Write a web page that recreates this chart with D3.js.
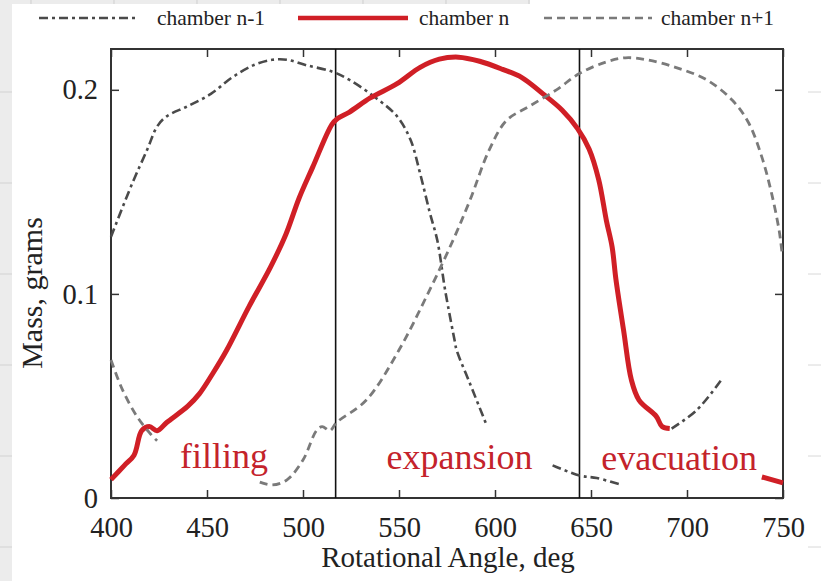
<!DOCTYPE html>
<html>
<head>
<meta charset="utf-8">
<script src="https://cdn.jsdelivr.net/npm/d3@7"></script>
<style>
  body { margin: 0; background: #fff; }
  svg text { font-family: "Liberation Serif", "Times New Roman", serif; }
</style>
</head>
<body>
<div id="chart"></div>
<script>
// Data (angle in deg, mass in grams); null breaks a line
const chamberPrev = [
  [400, 0.128], [411, 0.154], [419, 0.171], [424, 0.182], [429, 0.187], [440, 0.192],
  [452, 0.198], [463, 0.206], [474, 0.212], [484, 0.2147], [492, 0.2147], [502, 0.212],
  [515, 0.209], [524, 0.205], [538, 0.196], [549, 0.187], [556, 0.1755], [561, 0.159],
  [566, 0.14], [570, 0.126], [574, 0.102], [579, 0.077], [580, 0.0725], [587, 0.056],
  [595.5, 0.036],
  null,
  [630, 0.016], [644, 0.011], [653, 0.0098], [666, 0.0064],
  null,
  [692, 0.034], [705, 0.043], [718, 0.058]
]
const chamberN = [
  [400, 0.009], [407, 0.016], [412, 0.021], [416, 0.033], [420, 0.035], [424, 0.033],
  [429, 0.037], [440, 0.045], [446, 0.051], [453, 0.061], [460, 0.072], [472, 0.094],
  [483, 0.113], [491, 0.129], [498, 0.147], [505, 0.162], [515, 0.183], [518, 0.186],
  [524, 0.189], [535, 0.196], [549, 0.203], [561, 0.211], [571, 0.215], [581, 0.216],
  [592, 0.214], [604, 0.21], [614, 0.206], [625, 0.198], [635, 0.19], [643, 0.181],
  [649, 0.171], [654, 0.156], [658, 0.136], [661, 0.123], [663, 0.107], [667, 0.082],
  [671, 0.058], [675, 0.048], [684, 0.04], [687, 0.035], [691, 0.034],
  null,
  [739, 0.0103], [750, 0.0074]
]
const chamberNext = [
  [400, 0.0676], [406, 0.053], [413.5, 0.04], [420, 0.032], [424, 0.028],
  null,
  [477.5, 0.0078], [484, 0.0064], [491.5, 0.0088], [500, 0.0186], [507, 0.033],
  [510, 0.035], [514, 0.033], [517.5, 0.037], [533, 0.048], [550, 0.0725], [566, 0.102],
  [578, 0.126], [587, 0.146], [597, 0.1706], [606, 0.185], [618, 0.192], [632, 0.2],
  [644, 0.208], [658, 0.2137], [668, 0.2157], [679, 0.2147], [694, 0.211], [710, 0.205],
  [723.5, 0.195], [732, 0.184], [739, 0.167], [744, 0.1495], [748, 0.131], [749.5, 0.12]
]
const seriesNames = ["chamber n-1", "chamber n", "chamber n+1"]
const xTicks = [400, 450, 500, 550, 600, 650, 700, 750]
const yTicks = [0, 0.1, 0.2]
const yTickLabels = ["0", "0.1", "0.2"]
const phaseBounds = [517, 644]
const phaseNames = ["filling", "expansion", "evacuation"]
const phaseAnchors = [[436, 0.0147], [543.5, 0.0142], [655.3, 0.0137]]

// Dimensions
const width = 821
const height = 581
const plot = {left: 111, right: 783, top: 49, bottom: 498}
const red = "#d01f26"

const svg = d3.select("#chart")
  .append("svg")
    .attr("width", width)
    .attr("height", height)

// Page background bits (gray strip and faint rules)
svg.append("rect").attr("x", 0).attr("y", 0).attr("width", 12).attr("height", height).attr("fill", "#ececec")
svg.append("rect").attr("x", 0).attr("y", 0).attr("width", 530).attr("height", 4).attr("fill", "#ececec")
d3.range(31, 530, 83).forEach(function(sx) {
  svg.append("line").attr("x1", sx).attr("x2", sx).attr("y1", 0).attr("y2", 4).attr("stroke", "#cfcfcf")
})
d3.range(92, 560, 91).forEach(function(ry) {
  svg.append("line").attr("x1", 0).attr("x2", 12).attr("y1", ry).attr("y2", ry).attr("stroke", "#d2d2d2")
  svg.append("line").attr("x1", 808).attr("x2", width).attr("y1", ry).attr("y2", ry).attr("stroke", "#d8d8d8")
})

// Scales
const xScale = d3.scaleLinear().domain([400, 750]).range([plot.left, plot.right])
const yScale = d3.scaleLinear().domain([0, 0.22]).range([plot.bottom, plot.top])

// Axes with inward ticks on all four sides
svg.append("g")
    .attr("class", "x-axis")
    .attr("transform", `translate(0,${plot.bottom})`)
    .call(d3.axisBottom(xScale).tickValues(xTicks).tickSizeInner(-8).tickSizeOuter(0).tickPadding(19))
svg.append("g")
    .attr("class", "x-axis-top")
    .attr("transform", `translate(0,${plot.top})`)
    .call(d3.axisTop(xScale).tickValues(xTicks).tickSizeInner(-8).tickSizeOuter(0).tickFormat(""))
svg.append("g")
    .attr("class", "y-axis")
    .attr("transform", `translate(${plot.left},0)`)
    .call(d3.axisLeft(yScale).tickValues(yTicks).tickSizeInner(-8).tickSizeOuter(0).tickPadding(13)
      .tickFormat(function(d, i) { return yTickLabels[i] }))
svg.append("g")
    .attr("class", "y-axis-right")
    .attr("transform", `translate(${plot.right},0)`)
    .call(d3.axisRight(yScale).tickValues(yTicks).tickSizeInner(-8).tickSizeOuter(0).tickFormat(""))

svg.selectAll(".domain").remove()
svg.selectAll(".tick line").attr("stroke", "#333").attr("stroke-width", 1.5)
svg.selectAll(".x-axis .tick text, .y-axis .tick text")
    .attr("fill", "#222")
    .style("font-size", "28.5px")
    .style("font-family", "Liberation Serif")

// Frame
svg.append("rect")
    .attr("x", plot.left)
    .attr("y", plot.top)
    .attr("width", plot.right - plot.left)
    .attr("height", plot.bottom - plot.top)
    .attr("fill", "none")
    .attr("stroke", "#333")
    .attr("stroke-width", 2)

// Phase boundaries
svg.selectAll(".phase-line")
    .data(phaseBounds)
    .enter().append("line")
    .attr("class", "phase-line")
    .attr("x1", function(d) { return xScale(d) })
    .attr("x2", function(d) { return xScale(d) })
    .attr("y1", plot.top)
    .attr("y2", plot.bottom)
    .attr("stroke", "#111")
    .attr("stroke-width", 1.6)

// Lines
const line = d3.line()
    .defined(function(d) { return d !== null })
    .x(function(d) { return xScale(d[0]) })
    .y(function(d) { return yScale(d[1]) })
    .curve(d3.curveCatmullRom)

const styles = [
  {color: "#4a4a4a", width: 2.6, dash: "9,4,3,4"},
  {color: red, width: 5, dash: null},
  {color: "#7a7a7a", width: 2.8, dash: "8,5"}
]
const seriesData = [chamberPrev, chamberN, chamberNext]

seriesData.forEach(function(data, i) {
  svg.append("path")
      .datum(data)
      .attr("fill", "none")
      .attr("stroke", styles[i].color)
      .attr("stroke-width", styles[i].width)
      .attr("stroke-dasharray", styles[i].dash)
      .attr("stroke-linejoin", "round")
      .attr("d", line)
})

// Phase labels
svg.selectAll(".phase-label")
    .data(phaseNames)
    .enter().append("text")
    .attr("class", "phase-label")
    .attr("x", function(d, i) { return xScale(phaseAnchors[i][0]) })
    .attr("y", function(d, i) { return yScale(phaseAnchors[i][1]) })
    .attr("fill", "#c4232b")
    .style("font-size", "36px")
    .text(function(d) { return d })

// Axis titles
svg.append("text")
    .attr("x", (plot.left + plot.right) / 2 + 1)
    .attr("y", 567)
    .attr("text-anchor", "middle")
    .attr("fill", "#222")
    .style("font-size", "29px")
    .text("Rotational Angle, deg")

svg.append("text")
    .attr("transform", "translate(42,293) rotate(-90)")
    .attr("text-anchor", "middle")
    .attr("fill", "#222")
    .style("font-size", "30px")
    .text("Mass, grams")

// Legend
const legendItems = [
  {x1: 39, x2: 139, tx: 157},
  {x1: 298, x2: 408, tx: 419},
  {x1: 544, x2: 652, tx: 661}
]
const legendY = 18

legendItems.forEach(function(item, i) {
  svg.append("line")
      .attr("x1", item.x1)
      .attr("x2", item.x2)
      .attr("y1", legendY)
      .attr("y2", legendY)
      .attr("stroke", styles[i].color)
      .attr("stroke-width", i === 1 ? 4.5 : 2.4)
      .attr("stroke-dasharray", styles[i].dash)
  svg.append("text")
      .attr("x", item.tx)
      .attr("y", legendY + 7)
      .attr("fill", "#222")
      .style("font-size", "21.5px")
      .text(seriesNames[i])
})
</script>
</body>
</html>
